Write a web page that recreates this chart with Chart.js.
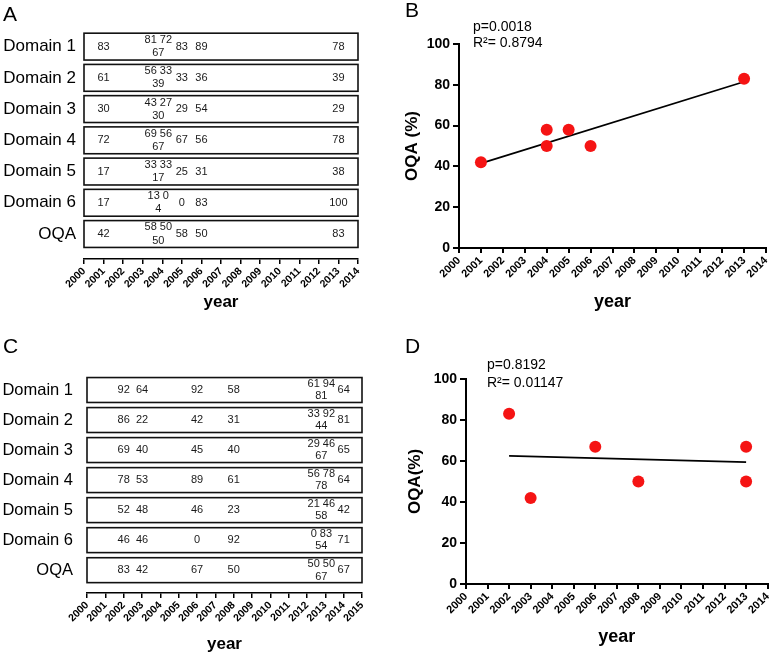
<!DOCTYPE html>
<html lang="en">
<head>
  <meta charset="UTF-8">
  <title>OQA by year</title>
  <script src="https://cdn.jsdelivr.net/npm/chart.js"></script>
  <style>
    body {
      margin: 0;
      background: #fff;
      font-family: Arial, "Liberation Sans", sans-serif;
    }
    #fig {
      position: relative;
      width: 778px;
      height: 655px;
    }
    canvas {
      position: absolute;
    }
    .letter {
      position: absolute;
      font-size: 21px;
      color: #000;
    }
  </style>
</head>
<body>

<div id="fig">
  <canvas id="chartA" width="390" height="320" style="left:0;top:0"></canvas>
  <canvas id="chartB" width="388" height="320" style="left:390px;top:0"></canvas>
  <canvas id="chartC" width="390" height="325" style="left:0;top:330px"></canvas>
  <canvas id="chartD" width="388" height="325" style="left:390px;top:330px"></canvas>
  <div class="letter" style="left:3px;top:2px">A</div>
  <div class="letter" style="left:405px;top:-2px">B</div>
  <div class="letter" style="left:3px;top:334px">C</div>
  <div class="letter" style="left:405px;top:334px">D</div>
</div>

<script>
  // rows of the score tables
  const rowNames = ['Domain 1', 'Domain 2', 'Domain 3', 'Domain 4', 'Domain 5', 'Domain 6', 'OQA'];

  // panel A: one value per study, study years
  const yearsA = [2001, 2004, 2004, 2004, 2005, 2006, 2013];
  const domain1A = [83, 81, 72, 67, 83, 89, 78];
  const domain2A = [61, 56, 33, 39, 33, 36, 39];
  const domain3A = [30, 43, 27, 30, 29, 54, 29];
  const domain4A = [72, 69, 56, 67, 67, 56, 78];
  const domain5A = [17, 33, 33, 17, 25, 31, 38];
  const domain6A = [17, 13, 0, 4, 0, 83, 100];
  const oqaA = [42, 58, 50, 50, 58, 50, 83];

  // panel C
  const yearsC = [2002, 2003, 2006, 2008, 2013, 2013, 2013, 2014];
  const domain1C = [92, 64, 92, 58, 61, 94, 81, 64];
  const domain2C = [86, 22, 42, 31, 33, 92, 44, 81];
  const domain3C = [69, 40, 45, 40, 29, 46, 67, 65];
  const domain4C = [78, 53, 89, 61, 56, 78, 78, 64];
  const domain5C = [52, 48, 46, 23, 21, 46, 58, 42];
  const domain6C = [46, 46, 0, 92, 0, 83, 54, 71];
  const oqaC = [83, 42, 67, 50, 50, 50, 67, 67];

  // panel B: OQA (%) against year, with fitted line
  const yearsB = [2001, 2004, 2004, 2005, 2006, 2013];
  const oqaB = [42, 58, 50, 58, 50, 83];
  const fitYearsB = [2001, 2013];
  const fitB = [41.5, 81.5];
  const statsB = ['p=0.0018', 'R²= 0.8794'];

  // panel D
  const yearsD = [2002, 2003, 2006, 2008, 2013, 2013];
  const oqaD = [83, 42, 67, 50, 67, 50];
  const fitYearsD = [2002, 2013];
  const fitD = [62.5, 59.5];
  const statsD = ['p=0.8192', 'R²= 0.01147'];

  // tick labels
  const yearTicks = [2000, 2001, 2002, 2003, 2004, 2005, 2006, 2007, 2008, 2009, 2010, 2011, 2012, 2013, 2014];
  const yearTicksC = [2000, 2001, 2002, 2003, 2004, 2005, 2006, 2007, 2008, 2009, 2010, 2011, 2012, 2013, 2014, 2015];
  const pctTicks = [0, 20, 40, 60, 80, 100];

  const family = 'Arial, "Liberation Sans", sans-serif';
  Chart.defaults.font.family = family;
  Chart.defaults.color = '#000';
  Chart.defaults.animation = false;
  Chart.defaults.plugins.legend.display = false;
  Chart.defaults.plugins.tooltip.enabled = false;

  // draws the row boxes and the numbers in them
  const cellText = {
    id: 'cellText',
    afterDatasetsDraw(chart, args, o) {
      const { ctx, scales: { x, y } } = chart;
      ctx.save();
      chart.data.datasets.forEach((ds, r) => {
        const left = x.getPixelForValue(x.min);
        const right = x.getPixelForValue(x.max);
        const top = y.getPixelForValue(r - o.half);
        const bottom = y.getPixelForValue(r + o.half);
        ctx.lineWidth = 1.6;
        ctx.strokeStyle = '#111';
        ctx.strokeRect(left, top, right - left, bottom - top);

        ctx.font = o.size + 'px ' + family;
        ctx.fillStyle = '#1a1a1a';
        ctx.textAlign = 'center';
        ctx.textBaseline = 'middle';
        const groups = {};
        ds.data.forEach(p => (groups[p.x] = groups[p.x] || []).push(p.v));
        Object.keys(groups).forEach(yr => {
          const vals = groups[yr];
          const px = x.getPixelForValue(+yr);
          if (vals.length === 1) {
            ctx.fillText(vals[0], px, y.getPixelForValue(r));
          } else {
            // several studies in one year: stacked on two lines
            ctx.fillText(vals.slice(0, -1).join(' '), px - 4, y.getPixelForValue(r - 0.21));
            ctx.fillText(vals[vals.length - 1], px - 4, y.getPixelForValue(r + 0.21));
          }
        });
      });
      ctx.restore();
    }
  };

  // p value and R² above the plot
  const statText = {
    id: 'statText',
    afterDraw(chart, args, o) {
      const { ctx, chartArea } = chart;
      ctx.save();
      ctx.font = '14px ' + family;
      ctx.fillStyle = '#000';
      ctx.textBaseline = 'middle';
      chart.options.plugins.statText.lines.forEach((t, i) => {
        ctx.fillText(t, chartArea.left + o.dx, o.top + i * o.gap);
      });
      ctx.restore();
    }
  };

  function tableChart(id, years, rows, o) {
    return new Chart(document.getElementById(id), {
      type: 'scatter',
      data: {
        datasets: rows.map((vals, r) => ({
          label: rowNames[r],
          data: years.map((yr, i) => ({ x: yr, y: r, v: vals[i] })),
          pointRadius: 0
        }))
      },
      options: {
        responsive: false,
        layout: { padding: o.padding },
        plugins: { cellText: { half: o.half, size: o.size } },
        scales: {
          x: {
            type: 'linear',
            min: o.ticks[0],
            max: o.ticks[o.ticks.length - 1],
            afterBuildTicks: a => { a.ticks = o.ticks.map(v => ({ value: v })); },
            ticks: {
              autoSkip: false,
              minRotation: 45, maxRotation: 45, padding: 1,
              font: { size: 10.5, weight: 'bold' },
              callback: v => String(v)
            },
            grid: { drawOnChartArea: false, tickLength: 5, color: '#000', lineWidth: 1.5 },
            border: { color: '#000', width: 1.5 },
            title: { display: true, text: 'year', padding: 0, font: { size: 17, weight: 'bold' } },
            afterFit: a => { a.height = o.xHeight; }
          },
          y: {
            type: 'linear',
            reverse: true,
            min: -0.5,
            max: o.yMax,
            afterBuildTicks: a => { a.ticks = rowNames.map((_, i) => ({ value: i })); },
            ticks: { autoSkip: false, padding: o.labelPad, font: { size: o.rowFont }, callback: v => rowNames[v] },
            grid: { display: false, drawTicks: false },
            border: { display: false },
            afterFit: a => { a.width = o.yWidth; }
          }
        }
      },
      plugins: [cellText]
    });
  }

  function scatterChart(id, years, vals, fitYears, fit, stats, o) {
    return new Chart(document.getElementById(id), {
      type: 'scatter',
      data: {
        datasets: [
          {
            data: years.map((x, i) => ({ x, y: vals[i] })),
            backgroundColor: 'rgb(245, 20, 20)',
            pointRadius: 6,
            pointBorderWidth: 0
          },
          {
            data: fitYears.map((x, i) => ({ x, y: fit[i] })),
            showLine: true,
            borderColor: '#000',
            borderWidth: 1.8,
            pointRadius: 0
          }
        ]
      },
      options: {
        responsive: false,
        layout: { padding: o.padding },
        plugins: { statText: { lines: stats, dx: o.statDx, top: o.statTop, gap: o.statGap } },
        scales: {
          x: {
            type: 'linear',
            min: 2000,
            max: 2014,
            afterBuildTicks: a => { a.ticks = yearTicks.map(v => ({ value: v })); },
            ticks: {
              autoSkip: false,
              minRotation: 45, maxRotation: 45, padding: 1,
              font: { size: 11, weight: 'bold' },
              callback: v => String(v)
            },
            grid: { drawOnChartArea: false, tickLength: 5, color: '#000', lineWidth: 2 },
            border: { color: '#000', width: 2 },
            title: { display: true, text: 'year', padding: 0, font: { size: 18, weight: 'bold' } },
            afterFit: a => { a.height = o.xHeight; }
          },
          y: {
            min: 0,
            max: 100,
            afterBuildTicks: a => { a.ticks = pctTicks.map(v => ({ value: v })); },
            ticks: { padding: 3, font: { size: 14, weight: 'bold' } },
            grid: { drawOnChartArea: false, tickLength: 6, color: '#000', lineWidth: 2 },
            border: { color: '#000', width: 2 },
            title: { display: true, text: o.yTitle, padding: 0, font: { size: 17, weight: 'bold' } },
            afterFit: a => { a.width = o.yWidth; }
          }
        }
      },
      plugins: [statText]
    });
  }

  tableChart('chartA', yearsA,
    [domain1A, domain2A, domain3A, domain4A, domain5A, domain6A, oqaA],
    { ticks: yearTicks, yMax: 6.8, half: 0.43, size: 11, rowFont: 17, labelPad: 8,
      yWidth: 84, xHeight: 54, padding: { left: 0, right: 32, top: 31, bottom: 7 } });

  tableChart('chartC', yearsC,
    [domain1C, domain2C, domain3C, domain4C, domain5C, domain6C, oqaC],
    { ticks: yearTicksC, yMax: 6.76, half: 0.415, size: 11, rowFont: 16.5, labelPad: 14,
      yWidth: 87, xHeight: 62, padding: { left: 0, right: 28, top: 45, bottom: 0 } });

  scatterChart('chartB', yearsB, oqaB, fitYearsB, fitB, statsB,
    { yTitle: 'OQA (%)', yWidth: 57, xHeight: 65, statDx: 14, statTop: 27, statGap: 16.5,
      padding: { left: 12, right: 12, top: 44, bottom: 7 } });

  scatterChart('chartD', yearsD, oqaD, fitYearsD, fitD, statsD,
    { yTitle: 'OQA(%)', yWidth: 61, xHeight: 64, statDx: 21, statTop: 35, statGap: 18,
      padding: { left: 15, right: 6, top: 49, bottom: 7 } });
</script>

</body>
</html>
